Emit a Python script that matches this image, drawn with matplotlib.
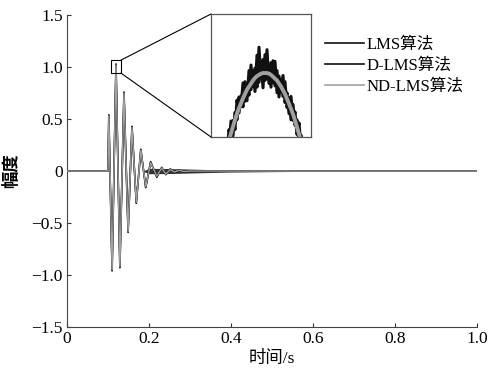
import numpy as np
import matplotlib
matplotlib.use("Agg")
import matplotlib.pyplot as plt
from matplotlib.patches import Rectangle, ConnectionPatch

plt.rcParams['font.family'] = ['Liberation Serif', 'Noto Sans CJK SC', 'DejaVu Sans']
plt.rcParams['axes.unicode_minus'] = True

# ---------------- data ----------------
series_names = ["LMS算法", "D-LMS算法", "ND-LMS算法"]

main_t = [0.0, 0.100, 0.102, 0.110, 0.1195, 0.129, 0.139, 0.149, 0.1585, 0.169,
          0.180, 0.192, 0.204, 0.219, 0.231, 0.241, 0.252, 0.262, 0.273, 0.285,
          0.300, 1.0]
nd_lms = [0.0, 0.0, 0.53, -0.95, 1.02, -0.92, 0.75, -0.58, 0.42, -0.30,
          0.20, -0.15, 0.08, -0.05, 0.03, -0.03, 0.015, -0.01, 0.008, -0.005,
          0.0, 0.0]
lms = [0.0, 0.0, 0.54, -0.96, 1.03, -0.93, 0.76, -0.59, 0.43, -0.31,
       0.21, -0.16, 0.09, -0.06, 0.035, -0.035, 0.02, -0.015, 0.01, -0.008,
       0.0, 0.0]
d_lms = [0.0, 0.0, 0.535, -0.955, 1.025, -0.925, 0.755, -0.585, 0.425, -0.305,
         0.205, -0.155, 0.085, -0.055, 0.032, -0.032, 0.018, -0.012, 0.009, -0.006,
         0.0, 0.0]

# residual noise band of LMS / D-LMS around zero
noise_t = [0.185, 0.20, 0.25, 0.30, 0.35, 0.40, 0.50, 0.60, 0.70]
noise_amp = [0.0, 0.026, 0.024, 0.019, 0.014, 0.010, 0.006, 0.003, 0.0]

# zoomed peak (inset)
inset_t = [0.1162, 0.1164, 0.1166, 0.1168, 0.1170, 0.1172, 0.1174, 0.1176, 0.1178,
           0.1180, 0.1182, 0.1184, 0.1186, 0.1188, 0.1190, 0.1192, 0.1194, 0.1196,
           0.1198, 0.1200, 0.1202, 0.1204, 0.1206, 0.1208, 0.1210, 0.1212, 0.1214,
           0.1216, 0.1218, 0.1220, 0.1222, 0.1224, 0.1226, 0.1228, 0.1230, 0.1232,
           0.1234, 0.1236, 0.1238, 0.1240, 0.1242, 0.1244, 0.1246]
inset_nd = [0.854, 0.868, 0.882, 0.894, 0.906, 0.917, 0.928, 0.938, 0.947, 0.955,
            0.963, 0.970, 0.977, 0.982, 0.987, 0.992, 0.996, 0.999, 1.001, 1.003,
            1.004, 1.004, 1.004, 1.003, 1.001, 0.998, 0.995, 0.992, 0.987, 0.982,
            0.976, 0.970, 0.962, 0.954, 0.946, 0.937, 0.927, 0.916, 0.905, 0.893,
            0.880, 0.866, 0.852]
inset_lms = [0.864, 0.856, 0.897, 0.886, 0.926, 0.902, 0.940, 0.928, 0.965, 0.949,
             0.988, 0.958, 0.985, 0.968, 1.017, 0.982, 1.012, 0.981, 1.046, 0.995,
             1.026, 0.992, 1.042, 0.987, 1.021, 0.988, 1.023, 0.972, 0.999, 0.974,
             1.000, 0.956, 0.972, 0.938, 0.966, 0.927, 0.941, 0.904, 0.923, 0.885,
             0.892, 0.856, 0.860]
inset_dlms = [0.846, 0.882, 0.872, 0.912, 0.894, 0.927, 0.912, 0.960, 0.939, 0.967,
              0.949, 0.990, 0.959, 1.008, 0.977, 1.008, 0.974, 1.033, 0.989, 1.021,
              0.980, 1.034, 0.994, 1.017, 0.981, 1.024, 0.983, 1.008, 0.965, 0.994,
              0.966, 0.990, 0.948, 0.964, 0.928, 0.953, 0.919, 0.928, 0.889, 0.903,
              0.868, 0.874, 0.842]

x_ticks = [0, 0.2, 0.4, 0.6, 0.8, 1.0]
x_labels = ["0", "0.2", "0.4", "0.6", "0.8", "1.0"]
y_ticks = [1.5, 1.0, 0.5, 0, -0.5, -1.0, -1.5]
y_labels = ["1.5", "1.0", "0.5", "0", "\u22120.5", "\u22121.0", "\u22121.5"]

# ---------------- figure ----------------
BLACK = "#111111"
GRAY = "#a0a0a0"

fig = plt.figure(figsize=(4.88, 3.78), dpi=100)
ax = fig.add_axes([0.1373, 0.135, 0.8402, 0.825])

ax.fill_between(noise_t, [-v for v in noise_amp], noise_amp, color="#333333",
                linewidth=0, zorder=1)
ax.plot(main_t, lms, color=BLACK, lw=1.2, zorder=2)
ax.plot(main_t, d_lms, color=BLACK, lw=1.1, zorder=2)
ax.plot(main_t, nd_lms, color=GRAY, lw=1.0, zorder=3)

# legend proxies
h1, = ax.plot([], [], color=BLACK, lw=1.2)
h2, = ax.plot([], [], color=BLACK, lw=1.2)
h3, = ax.plot([], [], color=GRAY, lw=1.2)
fig.legend([h1, h2, h3], series_names, loc="upper left",
           bbox_to_anchor=(325 / 488, 1 - 37 / 378), frameon=False,
           fontsize=12, handlelength=2.35, handletextpad=0.15,
           labelspacing=0.3, borderaxespad=0, borderpad=0)

ax.set_xlim(0, 1.0)
ax.set_ylim(-1.5, 1.5)
ax.set_xticks(x_ticks)
ax.set_xticklabels(x_labels)
ax.set_yticks(y_ticks)
ax.set_yticklabels(y_labels)
ax.tick_params(direction="in", length=3, width=0.8, labelsize=12.5,
               colors="#333333", labelcolor="black", pad=3)
for s in ["top", "right"]:
    ax.spines[s].set_visible(False)
for s in ["left", "bottom"]:
    ax.spines[s].set_color("#444444")
    ax.spines[s].set_linewidth(0.8)

ax.set_xlabel("时间/s", fontsize=12.5, labelpad=3)
ax.set_ylabel("幅度", fontsize=12.5, labelpad=8, fontweight="bold")

# zoom box in main axes
box_x0, box_x1, box_y0, box_y1 = 0.1073, 0.1317, 0.942, 1.067
ax.add_patch(Rectangle((box_x0, box_y0), box_x1 - box_x0, box_y1 - box_y0,
                       fill=False, ec="black", lw=0.8, zorder=5))

# inset
axin = fig.add_axes([211 / 488, 1 - 137 / 378, 100 / 488, 123 / 378])
axin.plot(inset_t, inset_lms, color=BLACK, lw=2.2)
axin.plot(inset_t, inset_dlms, color=BLACK, lw=2.2)
axin.plot(inset_t, inset_nd, color=GRAY, lw=2.8)
axin.set_xlim(0.115, 0.125)
axin.set_ylim(0.9, 1.1)
axin.set_xticks([])
axin.set_yticks([])
for s in axin.spines.values():
    s.set_color("#555555")
    s.set_linewidth(0.9)

for yb, yi in [(box_y1, 1), (box_y0, 0)]:
    con = ConnectionPatch(xyA=(box_x1, yb), coordsA=ax.transData,
                          xyB=(0, yi), coordsB=axin.transAxes,
                          color="black", lw=0.8)
    fig.add_artist(con)

fig.savefig("out.png", dpi=100)
